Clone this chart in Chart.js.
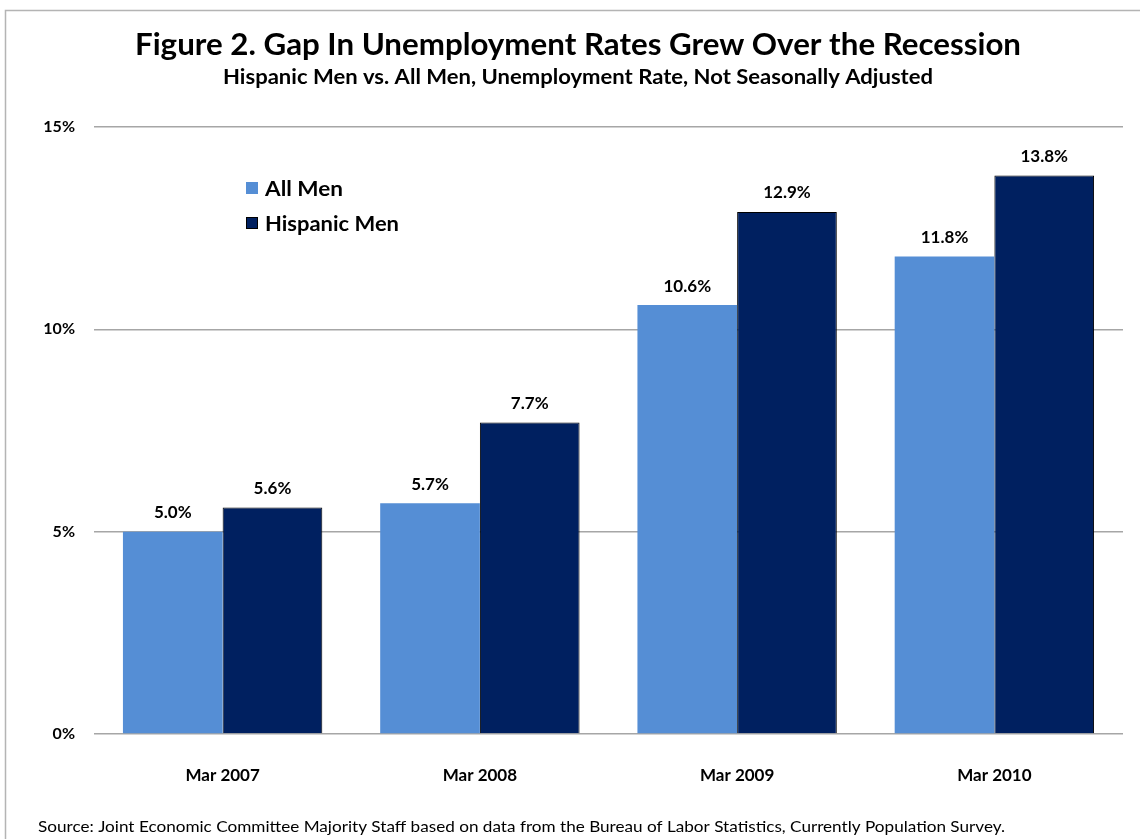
<!DOCTYPE html>
<html>
<head>
<meta charset="utf-8">
<script src="https://cdn.jsdelivr.net/npm/chart.js@4"></script>
<style>
  html, body { margin: 0; padding: 0; background: #fff; }
  #wrap { width: 1140px; height: 839px; position: relative; }
</style>
</head>
<body>
<div id="wrap"><canvas id="gapChart"></canvas></div>
<script>
const categories = ['Mar 2007', 'Mar 2008', 'Mar 2009', 'Mar 2010'];
const allMen = [5.0, 5.7, 10.6, 11.8];
const hispanicMen = [5.6, 7.7, 12.9, 13.8];
const yTicks = [0, 5, 10, 15];

const titleText = 'Figure 2. Gap In Unemployment Rates Grew Over the Recession';
const subtitleText = 'Hispanic Men vs. All Men, Unemployment Rate, Not Seasonally Adjusted';
const sourceText = 'Source: Joint Economic Committee Majority Staff based on data from the Bureau of Labor Statistics, Currently Population Survey.';

const FONT = 'Lato, "Open Sans", sans-serif';

// draw text stretched/squeezed to a given width
function fitText(ctx, text, x, y, width, align) {
    const w = ctx.measureText(text).width;
    const k = width / w;
    ctx.save();
    ctx.textAlign = 'left';
    const left = align === 'center' ? x - width / 2 : x;
    ctx.translate(left, y);
    ctx.scale(k, 1);
    ctx.fillText(text, 0, 0);
    ctx.restore();
}

// frame, titles, legend, source and value labels
const decorPlugin = {
    id: 'decor',
    beforeDraw(chart) {
        const ctx = chart.ctx;
        ctx.save();
        ctx.strokeStyle = '#b4b4b4';
        ctx.lineWidth = 1.5;
        ctx.beginPath();
        ctx.moveTo(5.5, 850);
        ctx.lineTo(5.5, 10.5);
        ctx.lineTo(1150, 10.5);
        ctx.stroke();
        ctx.restore();
    },
    afterDraw(chart) {
        const ctx = chart.ctx;
        ctx.save();
        ctx.fillStyle = '#000';
        ctx.textBaseline = 'middle';
        ctx.font = 'bold 30px ' + FONT;
        fitText(ctx, titleText, 578, 45, 886, 'center');
        ctx.font = 'bold 20px ' + FONT;
        fitText(ctx, subtitleText, 578, 78, 710, 'center');

        // value labels
        ctx.textAlign = 'center';
        ctx.font = 'bold 17px ' + FONT;
        chart.data.datasets.forEach((ds, i) => {
            chart.getDatasetMeta(i).data.forEach((bar, j) => {
                ctx.fillText(ds.data[j].toFixed(1) + '%', bar.x, bar.y - 19);
            });
        });

        // legend
        ctx.textAlign = 'left';
        ctx.font = 'bold 21px ' + FONT;
        chart.data.datasets.forEach((ds, i) => {
            const y = 188 + i * 35;
            ctx.fillStyle = ds.backgroundColor;
            ctx.fillRect(246, y - 6, 12, 12);
            if (ds.borderWidth) {
                ctx.strokeStyle = '#000';
                ctx.lineWidth = 1;
                ctx.strokeRect(246.5, y - 5.5, 11, 11);
            }
            ctx.fillStyle = '#000';
            fitText(ctx, ds.label, 265, y + 1, ds.label === 'All Men' ? 78 : 134, 'left');
        });

        // source
        ctx.font = '16px ' + FONT;
        ctx.textBaseline = 'alphabetic';
        fitText(ctx, sourceText, 38, 832, 967, 'left');
        ctx.restore();
    }
};

new Chart(document.getElementById('gapChart'), {
    type: 'bar',
    data: {
        labels: categories,
        datasets: [
            {
                label: 'All Men',
                data: allMen,
                backgroundColor: '#558ed5',
                borderWidth: 0
            },
            {
                label: 'Hispanic Men',
                data: hispanicMen,
                backgroundColor: '#002060',
                borderColor: '#000',
                borderWidth: 1
            }
        ]
    },
    options: {
        responsive: true,
        maintainAspectRatio: false,
        animation: false,
        layout: { padding: { top: 127, left: 0, right: 17, bottom: 55 } },
        plugins: {
            legend: { display: false },
            tooltip: { enabled: false }
        },
        datasets: {
            bar: { categoryPercentage: 0.775, barPercentage: 1.0 }
        },
        scales: {
            x: {
                grid: { display: false },
                border: { display: false },
                ticks: {
                    color: '#000',
                    padding: 23,
                    font: { family: FONT, size: 17, weight: 'bold' }
                },
                afterFit(scale) { scale.height = 50; }
            },
            y: {
                min: 0,
                max: 15,
                afterBuildTicks(scale) { scale.ticks = yTicks.map(v => ({ value: v })); },
                grid: { color: '#a6a6a6', lineWidth: 1.5, drawTicks: false },
                border: { display: false },
                ticks: {
                    color: '#000',
                    padding: 19,
                    font: { family: FONT, size: 16, weight: 'bold' },
                    callback: v => v + '%'
                },
                afterFit(scale) { scale.width = 94; }
            }
        }
    },
    plugins: [decorPlugin]
});
</script>
</body>
</html>
